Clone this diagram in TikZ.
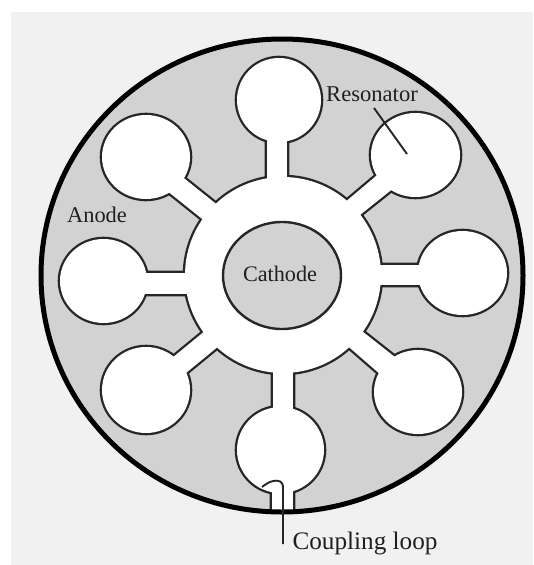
\documentclass[tikz,border=0pt]{standalone}
\usepackage{fontspec}
\setmainfont{Liberation Serif}
\definecolor{panel}{HTML}{F1F1F1}
\definecolor{anode}{HTML}{D2D2D2}
\newcommand{\voidcircles}{
  (283,275) circle[radius=98pt]
  (279,100) circle[x radius=42pt,y radius=42pt]
  (415.5,155) circle[x radius=44.5pt,y radius=42pt]
  (462.5,273) circle[x radius=44.5pt,y radius=42pt]
  (418,392) circle[x radius=44pt,y radius=42pt]
  (280.5,450) circle[x radius=43.5pt,y radius=43pt]
  (146,390) circle[x radius=44pt,y radius=43pt]
  (103.5,281) circle[x radius=43.5pt,y radius=42pt]
  (146,157) circle[x radius=44pt,y radius=42pt]
}
\newcommand{\voidslots}{
  (267,190) -- (267,110) -- (287,110) -- (287,190) -- cycle
  (370,265) -- (450,265) -- (450,285) -- (370,285) -- cycle
  (273,360) -- (273,440) -- (293,440) -- (293,360) -- cycle
  (195,273) -- (120,273) -- (120,294) -- (195,294) -- cycle
  (230,215) -- (155,155) -- (141,170) -- (216,230) -- cycle
  (331,214) -- (408,149) -- (420,167) -- (345,227) -- cycle
  (348,320) -- (419,376) -- (404,395) -- (335,335) -- cycle
  (231,336) -- (158,396) -- (144,381) -- (217,321) -- cycle
  (272,470) -- (272,518) -- (293,518) -- (293,470) -- cycle
}
\tikzset{
  lbl/.style={inner sep=0pt,anchor=center,text=black!88},
  leader/.style={draw=black!85,line width=1.9pt},
  wall/.style={draw=black!85,line width=4.6pt,line join=miter},
}
\begin{document}
\begin{tikzpicture}[x=1pt,y=-1pt]
\useasboundingbox (0,0) rectangle (533,565);
\fill[white] (0,0) rectangle (533,565);
\fill[panel] (11,12) rectangle (533,565);
\fill[anode] (282,275.5) circle[x radius=241pt,y radius=236.5pt];
\begin{scope}
  \clip (282,275.5) circle[x radius=241pt,y radius=236.5pt];
  \path[wall] \voidcircles;
  \path[wall] \voidslots;
  \fill[white] \voidcircles;
  \foreach \ax/\ay/\bx/\by/\cx/\cy/\dx/\dy in {
    267/190/267/110/287/110/287/190,
    370/265/450/265/450/285/370/285,
    273/360/273/440/293/440/293/360,
    195/273/120/273/120/294/195/294,
    230/215/155/155/141/170/216/230,
    331/214/408/149/420/167/345/227,
    348/320/419/376/404/395/335/335,
    231/336/158/396/144/381/217/321,
    272/470/272/518/293/518/293/470}
    {\fill[white] (\ax,\ay) -- (\bx,\by) -- (\cx,\cy) -- (\dx,\dy) -- cycle;}
\end{scope}
\draw[black,line width=5pt] (282,275.5) circle[x radius=241pt,y radius=236.5pt];
\filldraw[fill=anode,draw=black!85,line width=2.4pt] (282,275.5) circle[x radius=59pt,y radius=53.5pt];
\node[lbl,font=\fontsize{22.2}{24}\selectfont] (cathode) at (280,274) {Cathode};
\node[lbl,font=\fontsize{22.4}{24}\selectfont] (anodelabel) at (97,215) {Anode};
\node[lbl,font=\fontsize{22.6}{24}\selectfont] (resonator) at (372,94) {Resonator};
\node[lbl,font=\fontsize{25.2}{26}\selectfont] (coupling) at (365,543) {Coupling loop};
\coordinate (resA) at (374,108);
\coordinate (resB) at (407,154);
\draw[leader] (resA) -- (resB);
\coordinate (loopA) at (283,544);
\coordinate (loopB) at (262,487);
\draw[leader] (loopA) -- (283,488) .. controls (283,481) and (279,480) .. (273,481) .. controls (269,482) and (266,484) .. (loopB);
\end{tikzpicture}
\end{document}
